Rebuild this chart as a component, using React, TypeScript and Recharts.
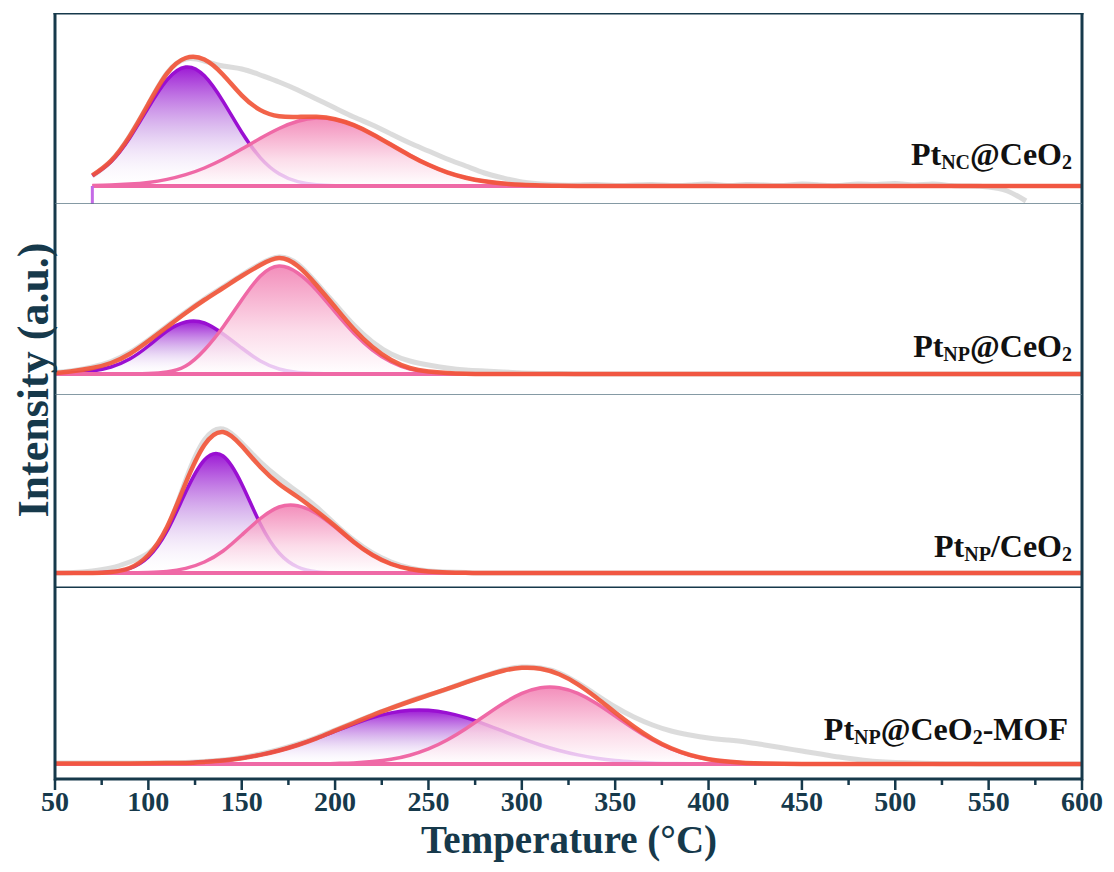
import React from 'react';
import { ComposedChart, Area, XAxis, YAxis, ReferenceLine } from 'recharts';

const FONT = '"Liberation Serif", "Times New Roman", serif';
const FRAME = '#16394b';
const ORANGE = '#f1563a';
const GRAY = '#d6d6d6';
const PURPLE = '#9a0fd2';
const PINK = '#ef69a6';

// Temperature grid (°C)
const temps = [50, 60, 70, 80, 90, 100, 110, 120, 130, 140, 150, 160, 170, 180, 190, 200, 210, 220, 230, 240, 250, 260, 270, 280, 290, 300, 310, 320, 330, 340, 350, 360, 370, 380, 390, 400, 410, 420, 430, 440, 450, 460, 470, 480, 490, 500, 510, 520, 530, 540, 550, 560, 570, 580, 590, 600];
const xTicks = [50, 75, 100, 125, 150, 175, 200, 225, 250, 275, 300, 325, 350, 375, 400, 425, 450, 475, 500, 525, 550, 575, 600];

// Pt_NC@CeO2
const p1Raw = [null, null, 10, 25, 50, 82, 113, 127, 125, 120, 117, 111, 104, 96, 87, 78, 69, 61, 52, 43, 35, 27, 20, 13, 8, 4, 2, 1, 1, 1.5, 0.5, 1, 1.5, 0.5, 1, 2, 0.5, 1.5, 1, 0.5, 2, 1, 0.5, 2, 1.5, 2.5, 1, 2, 0.5, 0, -1, -5, -15, null, null, null];
const p1Fit = [null, null, 10.6, 25.2, 49.9, 82, 112.7, 128, 126.5, 111.3, 90.7, 75.9, 69.8, 69.1, 69.2, 66.8, 60.8, 51.8, 41.2, 30.6, 21.2, 13.7, 8.3, 4.7, 2.4, 1.2, 0.6, 0.2, 0, 0, 0, 0, 0, 0, 0, 0, 0, 0, 0, 0, 0, 0, 0, 0, 0, 0, 0, 0, 0, 0, 0, 0, 0, 0, 0, 0];
const p1PeakA = [null, null, 10.2, 24.3, 48, 78.4, 106.1, 119, 110.2, 84.6, 53.8, 28.2, 12.3, 4.4, 1.3, 0.3, 0, 0, 0, 0, 0, 0, 0, 0, 0, 0, 0, 0, 0, 0, 0, 0, 0, 0, 0, 0, 0, 0, 0, 0, 0, 0, 0, 0, 0, 0, 0, 0, 0, 0, 0, 0, 0, 0, 0, 0];
const p1PeakB = [null, null, 0.4, 0.9, 1.9, 3.6, 6.6, 11.3, 18, 26.7, 36.9, 47.7, 57.5, 64.7, 67.9, 66.5, 60.8, 51.8, 41.2, 30.6, 21.2, 13.7, 8.3, 4.7, 2.4, 1.2, 0.6, 0.2, 0, 0, 0, 0, 0, 0, 0, 0, 0, 0, 0, 0, 0, 0, 0, 0, 0, 0, 0, 0, 0, 0, 0, 0, 0, 0, 0, 0];

// Pt_NP@CeO2
const p2Raw = [1.5, 3.5, 7, 12.5, 21.5, 34, 48, 62, 75, 87, 99, 110, 117, 110, 91, 70, 49, 32, 20, 13, 9, 6, 4, 3, 2, 1, 0.5, 0.5, 0, 0, 0, 0, 0, 0, 0, 0, 0, 0, 0, 0, 0, 0, 0, 0, 0, 0, 0, 0, 0, 0, 0, 0, 0, 0, 0, 0];
const p2Fit = [1, 3, 6, 11, 20, 33, 47, 61, 74, 86, 98, 109, 116, 108, 89, 67, 45, 27, 14, 6, 2.5, 1, 0.3, 0, 0, 0, 0, 0, 0, 0, 0, 0, 0, 0, 0, 0, 0, 0, 0, 0, 0, 0, 0, 0, 0, 0, 0, 0, 0, 0, 0, 0, 0, 0, 0, 0];
const p2PeakA = [0.3, 1, 3, 7, 15, 28, 43, 52, 51, 40, 26, 13, 5, 1.5, 0.5, 0, 0, 0, 0, 0, 0, 0, 0, 0, 0, 0, 0, 0, 0, 0, 0, 0, 0, 0, 0, 0, 0, 0, 0, 0, 0, 0, 0, 0, 0, 0, 0, 0, 0, 0, 0, 0, 0, 0, 0, 0];
const p2PeakB = [0, 0, 0, 0, 0.2, 0.5, 2, 8, 24, 47, 74, 98, 108, 101, 84, 62, 41, 24, 12, 5, 2, 0.5, 0, 0, 0, 0, 0, 0, 0, 0, 0, 0, 0, 0, 0, 0, 0, 0, 0, 0, 0, 0, 0, 0, 0, 0, 0, 0, 0, 0, 0, 0, 0, 0, 0, 0];

// Pt_NP/CeO2
const p3Raw = [0, 0.5, 2, 5, 11, 20, 44, 93, 133, 144, 130, 111, 95, 81, 66, 49, 33, 20, 11, 5, 2, 1, 0.5, 0, 0, 0, 0, 0, 0, 0, 0, 0, 0, 0, 0, 0, 0, 0, 0, 0, 0, 0, 0, 0, 0, 0, 0, 0, 0, 0, 0, 0, 0, 0, 0, 0];
const p3Fit = [0, 0, 0, 1, 5, 18, 46, 90, 128, 141, 127, 106, 89, 76, 62, 47, 31, 18, 9, 4, 1.6, 0.6, 0.2, 0, 0, 0, 0, 0, 0, 0, 0, 0, 0, 0, 0, 0, 0, 0, 0, 0, 0, 0, 0, 0, 0, 0, 0, 0, 0, 0, 0, 0, 0, 0, 0, 0];
const p3PeakA = [0, 0, 0, 0.9, 4.6, 16, 42, 81, 113, 117, 89, 49, 20, 6, 1.3, 0.2, 0, 0, 0, 0, 0, 0, 0, 0, 0, 0, 0, 0, 0, 0, 0, 0, 0, 0, 0, 0, 0, 0, 0, 0, 0, 0, 0, 0, 0, 0, 0, 0, 0, 0, 0, 0, 0, 0, 0, 0];
const p3PeakB = [0, 0, 0, 0, 0, 0.5, 1.6, 4.6, 11, 22, 38, 54.5, 66, 67.3, 59.5, 45.8, 30.8, 18, 9.2, 4.1, 1.6, 0.6, 0.2, 0, 0, 0, 0, 0, 0, 0, 0, 0, 0, 0, 0, 0, 0, 0, 0, 0, 0, 0, 0, 0, 0, 0, 0, 0, 0, 0, 0, 0, 0, 0, 0, 0];

// Pt_NP@CeO2-MOF
const p4Raw = [1, 1, 1, 1, 1, 1, 1.2, 1.6, 2.5, 4, 6.5, 10, 14.5, 20, 26.5, 34, 41.5, 49, 56, 63, 69, 75, 82, 88, 94, 97, 96, 91, 81, 69, 57, 47, 39, 33, 29, 26, 24, 22, 19, 16, 13, 10, 7, 4.5, 2.5, 1.5, 1, 0.5, 0.3, 0.2, 0, 0, 0, 0, 0, 0];
const p4Fit = [0.5, 0.5, 0.5, 0.6, 0.6, 0.8, 1, 1.1, 2.1, 3.5, 5.8, 9.1, 13.5, 19, 25.6, 33.3, 41, 48.7, 55.8, 62.5, 68.8, 75.1, 81.6, 87.9, 93.3, 96.2, 95.3, 89.8, 79.7, 66.3, 51.5, 37.4, 25.1, 15.7, 9.1, 4.8, 2.4, 1.1, 0.5, 0.2, 0, 0, 0, 0, 0, 0, 0, 0, 0, 0, 0, 0, 0, 0, 0, 0];
const p4PeakA = [0, 0, 0, 0.1, 0.1, 0.3, 0.6, 1.1, 2.1, 3.5, 5.8, 9.1, 13.5, 19, 25.6, 32.8, 39.9, 46.3, 51.1, 53.7, 53.7, 51.1, 46.3, 39.9, 32.8, 25.6, 19, 13.5, 9.1, 5.8, 3.5, 2.1, 1.1, 0.6, 0.3, 0.1, 0, 0, 0, 0, 0, 0, 0, 0, 0, 0, 0, 0, 0, 0, 0, 0, 0, 0, 0, 0];
const p4PeakB = [0, 0, 0, 0, 0, 0, 0, 0, 0, 0, 0, 0, 0, 0, 0, 0.5, 1.1, 2.4, 4.7, 8.8, 15.1, 24, 35.3, 48, 60.5, 70.6, 76.3, 76.3, 70.6, 60.5, 48, 35.3, 24, 15.1, 8.8, 4.7, 2.4, 1.1, 0.5, 0.2, 0, 0, 0, 0, 0, 0, 0, 0, 0, 0, 0, 0, 0, 0, 0, 0];

type Panel = {
  id: string;
  top: number;
  height: number;
  domain: [number, number];
  raw: (number | null)[];
  fit: (number | null)[];
  a: (number | null)[];
  b: (number | null)[];
  sub: string;
  mid: string;
  tail: string;
  labelX: number;
  labelY: number;
  sepColor: string;
  sepWidth: number;
  topLine: boolean;
  startMark: boolean;
};

const panels: Panel[] = [
  { id: 'p1', top: 13, height: 191, domain: [-18, 173], raw: p1Raw, fit: p1Fit, a: p1PeakA, b: p1PeakB, sub: 'NC', mid: '@CeO', tail: '', labelX: 1072, labelY: 165, sepColor: '#5d7886', sepWidth: 1.5, topLine: true, startMark: true },
  { id: 'p2', top: 204, height: 191, domain: [-21, 170], raw: p2Raw, fit: p2Fit, a: p2PeakA, b: p2PeakB, sub: 'NP', mid: '@CeO', tail: '', labelX: 1072, labelY: 357, sepColor: '#5d7886', sepWidth: 1.5, topLine: false, startMark: false },
  { id: 'p3', top: 395, height: 193, domain: [-15, 178], raw: p3Raw, fit: p3Fit, a: p3PeakA, b: p3PeakB, sub: 'NP', mid: '/CeO', tail: '', labelX: 1072, labelY: 557, sepColor: FRAME, sepWidth: 3, topLine: false, startMark: false },
  { id: 'p4', top: 588, height: 191, domain: [-15, 176], raw: p4Raw, fit: p4Fit, a: p4PeakA, b: p4PeakB, sub: 'NP', mid: '@CeO', tail: '-MOF', labelX: 1068, labelY: 740, sepColor: FRAME, sepWidth: 0, topLine: false, startMark: false },
];

const AXIS_H = 90;

const AxisTick = (props: any) => {
  const { x, y, payload } = props;
  const v = payload.value as number;
  const major = v % 50 === 0;
  return (
    <g>
      <line x1={x} x2={x} y1={y} y2={y + (major ? 11 : 6)} stroke={FRAME} strokeWidth={2.5} />
      {major && (
        <text x={x} y={y + 32} textAnchor="middle" fill={FRAME} fontSize={28} fontWeight="bold" fontFamily={FONT}>
          {v}
        </text>
      )}
    </g>
  );
};

function PanelChart({ p, isBottom }: { p: Panel; isBottom: boolean }) {
  // flat fitted baseline spans the measured range of each panel
  const rows = temps.map((t, i) => ({ t, raw: p.raw[i], fit: p.fit[i], a: p.a[i], b: p.b[i], base: p.a[i] === null ? null : 0 }));
  const firstIdx = p.a.findIndex((v) => v !== null);
  const startT = temps[firstIdx];
  const h = p.height + (isBottom ? AXIS_H : 0);
  return (
    <div style={{ position: 'absolute', left: 0, top: p.top }}>
      <ComposedChart width={1114} height={h} data={rows} margin={{ top: 0, right: 32, bottom: 0, left: 55 }}>
        <defs>
          <linearGradient id={`${p.id}-gA`} x1="0" y1="0" x2="0" y2="1">
            <stop offset="0%" stopColor="#9200d0" stopOpacity={0.9} />
            <stop offset="55%" stopColor="#c89ae6" stopOpacity={0.55} />
            <stop offset="100%" stopColor="#ffffff" stopOpacity={0.1} />
          </linearGradient>
          <linearGradient id={`${p.id}-gB`} x1="0" y1="0" x2="0" y2="1">
            <stop offset="0%" stopColor="#f072aa" stopOpacity={0.8} />
            <stop offset="60%" stopColor="#fbd3e4" stopOpacity={0.8} />
            <stop offset="100%" stopColor="#ffffff" stopOpacity={0.8} />
          </linearGradient>
        </defs>
        <XAxis
          dataKey="t"
          type="number"
          domain={[50, 600]}
          allowDataOverflow
          hide={!isBottom}
          ticks={xTicks}
          interval={0}
          tickSize={0}
          tickMargin={0}
          tickLine={false}
          tick={<AxisTick />}
          height={AXIS_H}
          axisLine={{ stroke: FRAME, strokeWidth: 3 }}
        />
        <YAxis hide type="number" domain={p.domain} allowDataOverflow />
        <Area dataKey="raw" type="natural" stroke={GRAY} strokeWidth={5} strokeOpacity={0.85} fill="none" baseValue={0} dot={false} activeDot={false} isAnimationActive={false} />
        <Area dataKey="a" type="natural" stroke={PURPLE} strokeWidth={3.5} fill={`url(#${p.id}-gA)`} fillOpacity={1} baseValue={0} dot={false} activeDot={false} isAnimationActive={false} />
        <Area dataKey="b" type="natural" stroke={PINK} strokeWidth={3.5} fill={`url(#${p.id}-gB)`} fillOpacity={1} baseValue={0} dot={false} activeDot={false} isAnimationActive={false} />
        <Area dataKey="base" type="linear" stroke={PINK} strokeWidth={4} fill="none" baseValue={0} dot={false} activeDot={false} isAnimationActive={false} />
        <Area dataKey="fit" type="natural" stroke={ORANGE} strokeWidth={4.5} strokeOpacity={0.92} fill="none" baseValue={0} dot={false} activeDot={false} isAnimationActive={false} />
        {p.startMark && (
          <ReferenceLine segment={[{ x: startT, y: p.domain[0] }, { x: startT, y: 0 }]} stroke="#c46ae6" strokeWidth={3} />
        )}
        <ReferenceLine x={50} stroke={FRAME} strokeWidth={3} strokeLinecap="square" />
        <ReferenceLine x={600} stroke={FRAME} strokeWidth={3} strokeLinecap="square" />
        {p.topLine && <ReferenceLine y={p.domain[1]} stroke={FRAME} strokeWidth={3} strokeLinecap="square" />}
        {p.sepWidth > 0 && <ReferenceLine y={p.domain[0]} stroke={p.sepColor} strokeWidth={p.sepWidth} />}
      </ComposedChart>
    </div>
  );
}

export default function App() {
  return (
    <div style={{ position: 'absolute', left: 0, top: 0, width: 1114, height: 872, background: '#ffffff', fontFamily: FONT }}>
      {panels.map((p, i) => (
        <PanelChart key={p.id} p={p} isBottom={i === panels.length - 1} />
      ))}
      <svg width={1114} height={872} style={{ position: 'absolute', left: 0, top: 0, pointerEvents: 'none' }}>
        {panels.map((p) => (
          <text key={p.id} x={p.labelX} y={p.labelY} textAnchor="end" fontFamily={FONT} fontWeight="bold" fontSize={32} fill="#111111">
            <tspan>Pt</tspan>
            <tspan fontSize={20} dy={4}>{p.sub}</tspan>
            <tspan dy={-4}>{p.mid}</tspan>
            <tspan fontSize={20} dy={4}>2</tspan>
            {p.tail && <tspan dy={-4}>{p.tail}</tspan>}
          </text>
        ))}
        <text x={569} y={853} textAnchor="middle" fontFamily={FONT} fontWeight="bold" fontSize={39} fill={FRAME}>
          Temperature (°C)
        </text>
        <text transform="translate(48,380) rotate(-90)" textAnchor="middle" fontFamily={FONT} fontWeight="bold" fontSize={44} fill={FRAME}>
          Intensity (a.u.)
        </text>
      </svg>
    </div>
  );
}
